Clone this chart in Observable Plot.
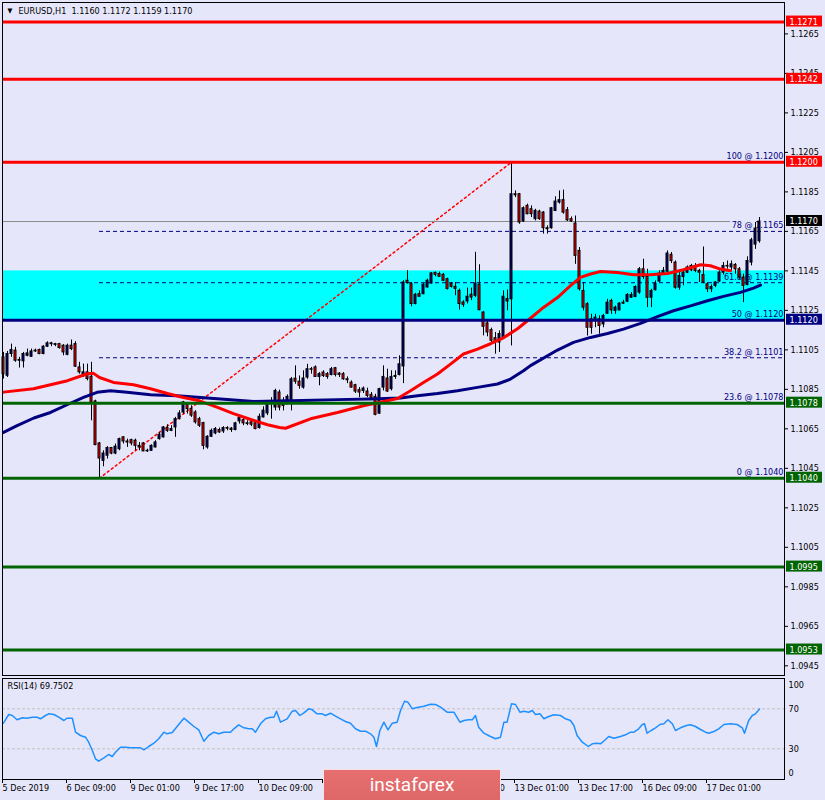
<!DOCTYPE html>
<html><head><meta charset="utf-8">
<script src="https://cdn.jsdelivr.net/npm/d3@7"></script>
<script src="https://cdn.jsdelivr.net/npm/@observablehq/plot@0.6"></script>
<style>
html,body{margin:0;padding:0;background:#E6E6FA;overflow:hidden;}
#wrap{position:relative;width:825px;height:800px;overflow:hidden;background:#E6E6FA;}
#main{position:absolute;left:0;top:0;}
#rsi{position:absolute;left:0;top:677px;}
#logo{position:absolute;left:323px;top:769px;width:178px;height:31px;box-sizing:border-box;border:1px solid rgba(255,255,255,0.8);border-bottom:none;background:linear-gradient(#E66E6E,#DE6868);color:#fff;font:19px Roboto,"Open Sans",sans-serif;display:flex;align-items:center;justify-content:center;padding-bottom:2px;}
</style></head><body>
<div id="wrap"><div id="main"></div><div id="rsi"></div><div id="logo">instaforex</div></div>
<script>
// ---- candle data (EURUSD H1, bar index 0 = 5 Dec 17:00) ----
const opens = [
1.11012,1.10919,1.11029,1.11046,1.10995,1.10992,1.11020,1.11015,1.11042,1.11049,
1.11029,1.11066,1.11083,1.11079,1.11079,1.11071,1.11025,1.11071,1.11079,1.10961,
1.10927,1.10936,1.10914,1.10789,1.10576,1.10488,1.10514,1.10553,1.10525,1.10547,
1.10607,1.10586,1.10593,1.10590,1.10564,1.10576,1.10536,1.10539,1.10556,1.10598,
1.10607,1.10654,1.10640,1.10657,1.10699,1.10733,1.10772,1.10750,1.10733,1.10699,
1.10679,1.10556,1.10610,1.10627,1.10644,1.10637,1.10654,1.10651,1.10644,1.10688,
1.10694,1.10678,1.10683,1.10678,1.10654,1.10708,1.10728,1.10775,1.10758,1.10834,
1.10766,1.10775,1.10795,1.10904,1.10889,1.10859,1.10910,1.10952,1.10961,1.10913,
1.10935,1.10927,1.10923,1.10957,1.10930,1.10927,1.10901,1.10884,1.10871,1.10846,
1.10842,1.10839,1.10822,1.10812,1.10727,1.10859,1.10905,1.10851,1.10913,1.10923,
1.10966,1.11400,1.11383,1.11282,1.11332,1.11332,1.11366,1.11386,1.11440,1.11434,
1.11430,1.11408,1.11383,1.11369,1.11349,1.11290,1.11295,1.11329,1.11324,1.11380,
1.11239,1.11184,1.11150,1.11109,1.11087,1.11109,1.11307,1.11306,1.11838,1.11838,
1.11700,1.11779,1.11762,1.11712,1.11750,1.11745,1.11666,1.11666,1.11754,1.11796,
1.11808,1.11757,1.11712,1.11690,1.11551,1.11348,1.11281,1.11205,1.11196,1.11205,
1.11179,1.11233,1.11298,1.11247,1.11250,1.11284,1.11294,1.11314,1.11318,1.11340,
1.11458,1.11419,1.11314,1.11352,1.11396,1.11436,1.11446,1.11531,1.11492,1.11365,
1.11419,1.11441,1.11453,1.11475,1.11450,1.11429,1.11382,1.11357,1.11374,1.11396,
1.11441,1.11475,1.11467,1.11480,1.11458,1.11416,1.11379,1.11492,1.11583,1.11600];
const highs = [
1.11037,1.11042,1.11079,1.11063,1.11012,1.11037,1.11054,1.11054,1.11054,1.11054,
1.11071,1.11091,1.11088,1.11083,1.11083,1.11076,1.11079,1.11100,1.11091,1.10987,
1.10978,1.10978,1.10987,1.10795,1.10581,1.10539,1.10560,1.10556,1.10573,1.10603,
1.10610,1.10598,1.10598,1.10598,1.10581,1.10581,1.10547,1.10569,1.10590,1.10632,
1.10662,1.10671,1.10666,1.10708,1.10742,1.10789,1.10784,1.10767,1.10742,1.10708,
1.10683,1.10615,1.10649,1.10657,1.10654,1.10661,1.10661,1.10657,1.10683,1.10711,
1.10705,1.10691,1.10694,1.10691,1.10725,1.10762,1.10784,1.10808,1.10851,1.10846,
1.10808,1.10822,1.10910,1.10969,1.10918,1.10944,1.10977,1.10961,1.10969,1.10935,
1.10944,1.10935,1.10961,1.10961,1.10935,1.10935,1.10913,1.10893,1.10876,1.10859,
1.10862,1.10856,1.10834,1.10825,1.10856,1.10969,1.10952,1.10944,1.10944,1.11020,
1.11400,1.11451,1.11391,1.11336,1.11349,1.11386,1.11408,1.11442,1.11444,1.11444,
1.11437,1.11413,1.11391,1.11391,1.11358,1.11299,1.11363,1.11363,1.11544,1.11481,
1.11244,1.11194,1.11160,1.11138,1.11146,1.11349,1.11353,1.12000,1.11855,1.11842,
1.11774,1.11788,1.11779,1.11762,1.11757,1.11750,1.11678,1.11771,1.11825,1.11855,
1.11859,1.11771,1.11723,1.11728,1.11568,1.11391,1.11289,1.11230,1.11230,1.11222,
1.11230,1.11306,1.11306,1.11272,1.11289,1.11301,1.11335,1.11340,1.11374,1.11467,
1.11509,1.11458,1.11357,1.11399,1.11450,1.11467,1.11551,1.11543,1.11500,1.11441,
1.11450,1.11475,1.11483,1.11487,1.11458,1.11571,1.11391,1.11379,1.11396,1.11450,
1.11492,1.11500,1.11500,1.11487,1.11467,1.11433,1.11521,1.11615,1.11695,1.11720];
const lows = [
1.10902,1.10910,1.11012,1.10987,1.10958,1.10958,1.11015,1.11012,1.11037,1.11025,
1.11025,1.11062,1.11066,1.11066,1.11054,1.11020,1.11020,1.11046,1.10961,1.10927,
1.10910,1.10893,1.10691,1.10564,1.10400,1.10458,1.10497,1.10519,1.10519,1.10539,
1.10573,1.10556,1.10564,1.10539,1.10539,1.10534,1.10531,1.10536,1.10553,1.10593,
1.10603,1.10632,1.10636,1.10607,1.10695,1.10725,1.10725,1.10708,1.10674,1.10657,
1.10544,1.10547,1.10606,1.10620,1.10627,1.10627,1.10640,1.10632,1.10640,1.10674,
1.10666,1.10666,1.10661,1.10645,1.10649,1.10705,1.10717,1.10699,1.10741,1.10741,
1.10741,1.10771,1.10741,1.10876,1.10851,1.10851,1.10901,1.10927,1.10910,1.10868,
1.10910,1.10901,1.10918,1.10913,1.10910,1.10896,1.10879,1.10856,1.10829,1.10808,
1.10829,1.10808,1.10800,1.10716,1.10724,1.10842,1.10834,1.10842,1.10901,1.10918,
1.10879,1.11383,1.11268,1.11278,1.11315,1.11329,1.11363,1.11383,1.11420,1.11417,
1.11397,1.11353,1.11363,1.11324,1.11251,1.11265,1.11282,1.11299,1.11315,1.11248,
1.11121,1.11116,1.11087,1.11028,1.11037,1.11104,1.11248,1.11070,1.11821,1.11686,
1.11695,1.11734,1.11720,1.11703,1.11706,1.11636,1.11636,1.11661,1.11750,1.11788,
1.11737,1.11700,1.11695,1.11483,1.11348,1.11247,1.11120,1.11129,1.11162,1.11129,
1.11162,1.11230,1.11230,1.11230,1.11247,1.11281,1.11289,1.11311,1.11314,1.11331,
1.11407,1.11264,1.11264,1.11348,1.11391,1.11429,1.11441,1.11487,1.11357,1.11352,
1.11374,1.11436,1.11446,1.11441,1.11391,1.11385,1.11340,1.11340,1.11365,1.11391,
1.11429,1.11458,1.11450,1.11433,1.11407,1.11289,1.11374,1.11475,1.11559,1.11590];
const closes = [
1.10927,1.11029,1.11049,1.10995,1.10999,1.11029,1.11032,1.11042,1.11046,1.11029,
1.11066,1.11083,1.11079,1.11075,1.11059,1.11037,1.11071,1.11054,1.10965,1.10936,
1.10936,1.10902,1.10784,1.10568,1.10500,1.10525,1.10553,1.10525,1.10560,1.10598,
1.10586,1.10581,1.10576,1.10564,1.10556,1.10536,1.10539,1.10564,1.10581,1.10620,
1.10657,1.10640,1.10649,1.10699,1.10728,1.10784,1.10750,1.10717,1.10683,1.10666,
1.10564,1.10610,1.10640,1.10649,1.10632,1.10654,1.10651,1.10644,1.10678,1.10705,
1.10678,1.10675,1.10671,1.10649,1.10711,1.10742,1.10772,1.10783,1.10842,1.10758,
1.10792,1.10812,1.10901,1.10889,1.10868,1.10905,1.10952,1.10949,1.10913,1.10927,
1.10918,1.10913,1.10952,1.10923,1.10923,1.10901,1.10896,1.10859,1.10839,1.10834,
1.10854,1.10817,1.10805,1.10721,1.10851,1.10913,1.10839,1.10913,1.10918,1.10977,
1.11391,1.11388,1.11282,1.11329,1.11319,1.11380,1.11400,1.11437,1.11430,1.11420,
1.11400,1.11358,1.11369,1.11359,1.11282,1.11278,1.11319,1.11315,1.11386,1.11251,
1.11167,1.11138,1.11096,1.11092,1.11130,1.11319,1.11295,1.11838,1.11833,1.11695,
1.11767,1.11737,1.11737,1.11754,1.11712,1.11666,1.11661,1.11767,1.11801,1.11808,
1.11745,1.11706,1.11700,1.11526,1.11357,1.11264,1.11162,1.11162,1.11213,1.11171,
1.11222,1.11289,1.11250,1.11264,1.11284,1.11289,1.11328,1.11328,1.11368,1.11458,
1.11419,1.11314,1.11348,1.11385,1.11436,1.11450,1.11538,1.11500,1.11365,1.11424,
1.11441,1.11467,1.11475,1.11450,1.11441,1.11391,1.11357,1.11368,1.11391,1.11441,
1.11475,1.11472,1.11483,1.11458,1.11416,1.11374,1.11500,1.11605,1.11664,1.11700];

// ---- moving averages (bar index, price) ----
const maRedK = [0,7.5,16,21,22.5,24,27.5,32.5,36.75,41,45,49,53.5,57.5,62,66,69,70.5,76.75,83.5,90,98.5,101.75,105,108.5,111.75,115,118.5,121.75,125,128.5,131.75,135,138.5,141.75,144.25,146.75,149.25,153.5,157.5,161.75,166,170,174.25,176.75,179.25,181.75];
const maRedV = [1.10836,1.10853,1.10894,1.10929,1.10931,1.10910,1.10885,1.10873,1.10853,1.10829,1.10809,1.10792,1.10759,1.10727,1.10696,1.10671,1.10657,1.10653,1.10701,1.10733,1.10767,1.10804,1.10843,1.10885,1.10928,1.10978,1.11029,1.11054,1.11081,1.11111,1.11157,1.11210,1.11265,1.11315,1.11375,1.11417,1.11434,1.11447,1.11442,1.11430,1.11430,1.11437,1.11456,1.11481,1.11476,1.11459,1.11451];
const maNavyK = [0,3.4,7.6,11.75,15.9,20,23.4,26.75,30.9,36.75,43.4,49.25,57.6,62.6,71.75,83.5,91.75,99.25,103.5,108.5,113.5,118.5,123.5,126.75,130,131.75,138.5,142.5,146.75,151,155,159.25,163.5,167.5,171.75,176,180,184.25,187.5,189.25];
const maNavyV = [1.10632,1.10666,1.10705,1.10733,1.10772,1.10809,1.10835,1.10843,1.10835,1.10823,1.10818,1.10809,1.10796,1.10789,1.10792,1.10798,1.10801,1.10806,1.10818,1.10829,1.10843,1.10860,1.10877,1.10902,1.10944,1.10970,1.11049,1.11088,1.11113,1.11133,1.11155,1.11184,1.11218,1.11248,1.11273,1.11299,1.11321,1.11341,1.11363,1.11378];

// ---- RSI(14) ----
const rsiK = [0,1.3,2.2,3.4,4.7,5.9,7.2,8.4,9.25,10.5,11.3,12.6,13.8,15.1,15.9,17.2,18,19.25,20.5,21.3,22.2,23,23.8,25.1,26.3,27.2,28,29.25,30.5,31.75,33,34.25,35.1,36.3,37.6,38.8,40.1,40.9,42.2,43.4,45.1,46.3,47.6,48.8,50.1,51.3,52.6,53.8,55.1,56.75,57.6,58.8,60.1,61.3,62.2,63,64.25,65.5,66.75,67.6,68.25,69.25,70.9,72.2,73,74.1,75.1,76.3,77.2,78.4,79.7,80.5,81.75,83,84.25,85.5,86.75,88,89.25,90.5,91.75,92.6,93.25,94.1,95.1,96.1,97.2,98.4,99.25,100.25,101.1,102.2,103.4,105.1,106.75,108,109.25,110.9,112.6,114.1,115.1,116.3,117.2,118,118.8,120.1,121.75,123,124.25,125.1,125.9,127,128,129.1,130.1,131.3,132.2,133,134.1,135.1,136.3,137.6,139.25,140.5,141.75,142.6,143.4,144.7,146.2,147.2,148.4,149.25,150.25,151.3,152.6,154.25,155.5,156.75,157.6,158.8,159.7,160.25,160.9,161.9,163,164.1,165.1,166.1,167.2,168,169.25,170.75,171.75,173,174.25,175.5,176.3,177.6,178.8,180.1,181.75,183.4,184.7,185.25,186.3,187.2,188,189];
const rsiV = [55.6,64.3,63.3,59,61,60.6,61.6,61.6,60,63.3,65,64.3,61.6,58.3,60.6,60.6,46.6,43.3,41.6,36.6,28.3,20,17.6,21,24.3,22.3,26.6,31.6,31.6,31,31,31,29,32.3,35.6,40,46.6,45,46.3,52.3,60.6,56.6,52.3,49,37.6,43.3,46.6,45,46.6,46.6,50,54,51,50,50,46.6,55,60,61.6,61.6,67.6,56.6,60,67.6,68.3,63.3,66,70,69,65,65,63.3,65.6,62.6,60,57.3,55.6,50,47.6,47.6,45,41.6,32.3,48.3,56.6,49,55.6,56.6,68.3,77.6,76.6,70,71.3,72.6,74.6,74.3,71.6,66.6,66.6,56.6,58.3,59,59,63.3,51.6,45.6,42.3,40,41.6,56.6,56.6,75,74.3,66.6,67.6,66.6,68.3,64.3,65,60,62.3,64,63.3,60,58.3,53.3,43.3,36.6,32.3,35,35.6,35,38.3,42.3,40.6,42.3,44,46.6,46.6,50,54.3,55,45.6,48.3,51,54.3,55,59,55,48.3,51,53.3,54,52.3,49.3,46.6,45.6,47.3,50,54.3,55,54.3,51,45.6,58.3,63.3,65,69.75];

// ---- levels, objects, labels ----
const redLevels = [1.1271, 1.1242, 1.1200];
const greenLevels = [1.1078, 1.1040, 1.0995, 1.0953];
const navyLevels = [1.1120];
const zoneLow = 1.1120, zoneHigh = 1.1145;
const bidPrice = 1.1170, bidLineEndK = 181.75;
const fibPct = [0, 23.6, 38.2, 50, 61.8, 78, 100];
const fibPrice = [1.1040, 1.1078, 1.1101, 1.1120, 1.1139, 1.1165, 1.1200];
const fibStartK = 24, fibEndK = 127;
const yTicks = [1.1265,1.1245,1.1225,1.1205,1.1185,1.1165,1.1145,1.1125,1.1105,1.1085,1.1065,1.1045,1.1025,1.1005,1.0985,1.0965,1.0945];
const tagPrices = [1.1271, 1.1242, 1.1200, 1.1170, 1.1120, 1.1078, 1.1040, 1.0995, 1.0953];
const tagColors = ["#FF0000","#FF0000","#FF0000","#000000","#000080","#006400","#006400","#006400","#006400"];
// tick positions (bar index); the labels for 11 Dec are hidden behind the logo in the reference
const xTickK = [0,16,32,48,64,80,96,112,128,144,160,176];
const xTickLabels = ["5 Dec 2019","6 Dec 09:00","9 Dec 01:00","9 Dec 17:00","10 Dec 09:00","","","12 Dec 09:00","13 Dec 01:00","13 Dec 17:00","16 Dec 09:00","17 Dec 01:00"];
const rsiLevels = [70, 30];
const header = "EURUSD,H1  1.1160 1.1172 1.1159 1.1170";
const rsiTitle = "RSI(14) 69.7502";

const candles = opens.map((o, i) => ({k: i, o, h: highs[i], l: lows[i], c: closes[i]}));
const maRed = maRedK.map((k, i) => ({k, v: maRedV[i]}));
const maNavy = maNavyK.map((k, i) => ({k, v: maNavyV[i]}));
const rsi = rsiK.map((k, i) => ({k, v: rsiV[i]}));
const fib = fibPct.map((p, i) => ({lvl: p, p: fibPrice[i]}));
const tags = tagPrices.map((p, i) => ({p, color: tagColors[i], t: p.toFixed(4)}));

const xMin = -0.25, xMax = 195.25;
const FONT = '"DejaVu Sans Condensed","Liberation Sans",sans-serif';
const NAVY = "#000080", RED = "#FF0000", GREEN = "#006400";

const main = Plot.plot({
  width: 825, height: 677,
  marginLeft: 2, marginRight: 41, marginTop: 2, marginBottom: 2,
  x: {domain: [xMin, xMax], axis: null},
  y: {domain: [1.09401, 1.12809], axis: null},
  style: {background: "#E6E6FA", fontFamily: FONT, fontSize: "9px", overflow: "visible"},
  marks: [
    Plot.rect([{a: zoneLow, b: zoneHigh}], {x1: () => xMin, x2: () => xMax, y1: "a", y2: "b", fill: "#00FFFF"}),
    Plot.ruleY(fib, {y: "p", x1: () => fibStartK, x2: () => xMax, stroke: NAVY, strokeDasharray: "4,3"}),
    Plot.text(fib, {x: () => xMax, y: "p", text: d => `${d.lvl} @ ${d.p.toFixed(4)}`, textAnchor: "end", dx: -1, dy: -6, fill: NAVY}),
    Plot.line([{k: fibStartK, p: fibPrice[0]}, {k: fibEndK, p: fibPrice[6]}], {x: "k", y: "p", stroke: RED, strokeDasharray: "2,3"}),
    Plot.ruleY([bidPrice], {x1: () => xMin, x2: () => bidLineEndK, stroke: "#8C8C8C"}),
    Plot.ruleX(candles, {x: "k", y1: "l", y2: "h", stroke: "black"}),
    Plot.rect(candles, {filter: d => d.c >= d.o, x1: d => d.k - 0.25, x2: d => d.k + 0.25, y1: "o", y2: "c", fill: NAVY, stroke: "black"}),
    Plot.rect(candles, {filter: d => d.c < d.o, x1: d => d.k - 0.25, x2: d => d.k + 0.25, y1: "o", y2: "c", fill: RED, stroke: "black"}),
    Plot.line(maNavy, {x: "k", y: "v", stroke: NAVY, strokeWidth: 3}),
    Plot.line(maRed, {x: "k", y: "v", stroke: RED, strokeWidth: 3}),
    Plot.ruleY(redLevels, {stroke: RED, strokeWidth: 3}),
    Plot.ruleY(greenLevels, {stroke: GREEN, strokeWidth: 3}),
    Plot.ruleY(navyLevels, {stroke: NAVY, strokeWidth: 3}),
    Plot.frame({stroke: "black"}),
    Plot.axisY(yTicks, {anchor: "right", tickSize: 3, tickPadding: 3, tickFormat: d => d.toFixed(4), label: null, fill: "black"}),
    ...tags.map(t => Plot.rect([t], {x1: () => xMax, x2: () => xMax, y1: "p", y2: "p", insetLeft: 2, insetRight: -38, insetTop: -6, insetBottom: -5, fill: t.color})),
    Plot.text(tags, {x: () => xMax, y: "p", text: "t", dx: 5, textAnchor: "start", fill: "white"}),
    Plot.text([header], {frameAnchor: "top-left", dx: 16, dy: 5, lineAnchor: "top", textAnchor: "start", fill: "black"}),
    Plot.text(["\u25BC"], {frameAnchor: "top-left", dx: 5, dy: 6, lineAnchor: "top", textAnchor: "start", fontSize: 7, fill: "black"})
  ]
});
document.getElementById("main").appendChild(main);

const rsiPlot = Plot.plot({
  width: 825, height: 123,
  marginLeft: 2, marginRight: 41, marginTop: 1, marginBottom: 21,
  x: {domain: [xMin, xMax], axis: null},
  y: {domain: [-0.7, 100.3], axis: null},
  style: {background: "#E6E6FA", fontFamily: FONT, fontSize: "9px", overflow: "visible"},
  marks: [
    Plot.ruleY(rsiLevels, {stroke: "#C0C0C0", strokeDasharray: "3,2"}),
    Plot.line(rsi, {x: "k", y: "v", stroke: "#1E90FF"}),
    Plot.frame({stroke: "black"}),
    Plot.axisX(xTickK, {anchor: "bottom", tickSize: 4, tickPadding: 1, tickFormat: d => xTickLabels[xTickK.indexOf(d)], textAnchor: "start", dx: -1, label: null, fill: "black"}),
    Plot.text(rsiLevels, {x: () => xMax, y: d => d, text: d => String(d), dx: 4, textAnchor: "start", fill: "black"}),
    Plot.text([100], {x: () => xMax, y: d => d, text: d => String(d), dx: 4, dy: 6, textAnchor: "start", fill: "black"}),
    Plot.text([0], {x: () => xMax, y: d => d, text: d => String(d), dx: 4, dy: -5.5, textAnchor: "start", fill: "black"}),
    Plot.text([rsiTitle], {frameAnchor: "top-left", dx: 5, dy: 4, lineAnchor: "top", textAnchor: "start", fill: "black"})
  ]
});
document.getElementById("rsi").appendChild(rsiPlot);
</script></body></html>
